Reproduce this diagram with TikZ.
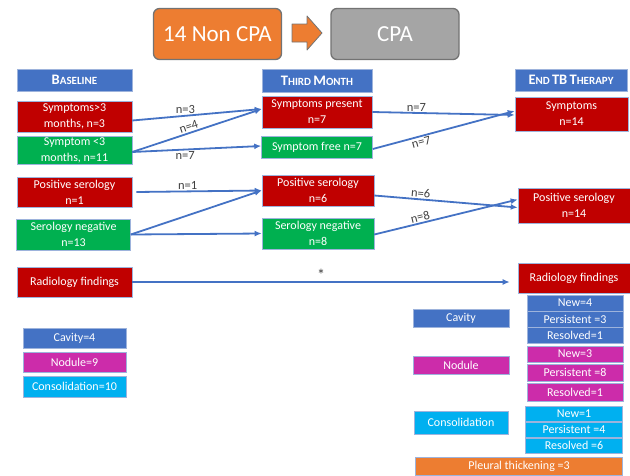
\documentclass[tikz,border=0pt]{standalone}
\usepackage{fontspec}
\setmainfont{Carlito}
\usetikzlibrary{arrows.meta}
\definecolor{pblue}{HTML}{4472C4}
\definecolor{pred}{HTML}{C00000}
\definecolor{pgreen}{HTML}{00B050}
\definecolor{pmag}{HTML}{CC2CAA}
\definecolor{pcyan}{HTML}{00B0F0}
\definecolor{porange}{HTML}{ED7D31}
\definecolor{pgray}{HTML}{A5A5A5}
\definecolor{pedge}{HTML}{9DB3DC}
\definecolor{plab}{HTML}{404040}
\newcommand{\hcap}[2]{{\fontsize{14.5}{16}\selectfont #1}{\fontsize{11}{16}\selectfont #2}}
\tikzset{
  box/.style = {draw = pedge, line width = 0.6pt, text = white, align = center,
    inner sep = 1pt, font = \fontsize{12}{16}\selectfont},
  wh/.style 2 args = {minimum width = #1, minimum height = #2},
  hdr/.style = {box, fill = pblue, font = \bfseries},
  big/.style = {draw = gray!90!black, line width = 1.3pt, rounded corners = 6pt,
    text = white, font = \fontsize{23}{26}\selectfont, minimum width = 128, minimum height = 51},
  lnk/.style = {draw = pblue, line width = 1.8pt, -{Latex[length = 7pt, width = 6pt]}},
  lab/.style = {text = plab, inner sep = 1pt, font = \fontsize{12.5}{14}\selectfont}
}

\begin{document}
\begin{tikzpicture}[x = 1pt, y = -1pt]
    \useasboundingbox (0, 0) rectangle (630, 475);

    % top banner
    \node [big, fill = porange] (noncpa) at (217.5, 34) {14 Non CPA};
    \node [big, fill = pgray] (cpa) at (395, 34) {CPA};
    \draw [fill = porange, draw = gray!90!black, line width = 0.8pt, line join = round]
      (292, 24) -- (307, 24) -- (307, 16) -- (322, 33) -- (307, 50) -- (307, 42) -- (292, 42) -- cycle;

    % column heads
    \node [hdr, wh = {115}{22}] (base) at (74.5, 80) {\hcap{B}{ASELINE}};
    \node [hdr, wh = {110}{23}] (third) at (317, 80.5) {\hcap{T}{HIRD} \hcap{M}{ONTH}};
    \node [hdr, wh = {112}{22}] (endtb) at (571, 80) {\hcap{E}{ND} \hcap{TB}{} \hcap{T}{HERAPY}};

    % symptoms
    \node [box, fill = pred, wh = {115}{31}] (sym3) at (74.5, 116.5) {Symptoms>3\\months, n=3};
    \node [box, fill = pgreen, wh = {115}{28}] (sym11) at (74.5, 150) {Symptom <3\\months, n=11};
    \node [box, fill = pred, wh = {110}{32}] (sympres) at (317, 112) {Symptoms present\\n=7};
    \node [box, fill = pgreen, wh = {111}{22}] (symfree) at (317, 147) {Symptom free n=7};
    \node [box, fill = pred, wh = {113}{34}] (symend) at (571.5, 114) {Symptoms\\n=14};

    % serology
    \node [box, fill = pred, wh = {115}{30}] (pos1) at (74.5, 192) {Positive serology\\n=1};
    \node [box, fill = pgreen, wh = {114}{31}] (neg13) at (73.5, 234.5) {Serology negative\\n=13};
    \node [box, fill = pred, wh = {112}{31}] (pos6) at (318, 190.5) {Positive serology\\n=6};
    \node [box, fill = pgreen, wh = {112}{31}] (neg8) at (318, 233.5) {Serology negative\\n=8};
    \node [box, fill = pred, wh = {112}{35}] (pos14) at (574, 205.5) {Positive serology\\n=14};

    % radiology
    \node [box, fill = pred, wh = {115}{30}] (radl) at (74.5, 282) {Radiology findings};
    \node [box, fill = pred, wh = {112}{30}] (radr) at (574, 278) {Radiology findings};

    \node [box, fill = pblue, wh = {103}{20}] (cav4) at (74.5, 338) {Cavity=4};
    \node [box, fill = pmag, wh = {103}{20}] (nod9) at (74.5, 362) {Nodule=9};
    \node [box, fill = pcyan, wh = {103}{21}] (cons10) at (74.5, 386.5) {Consolidation=10};

    \node [box, fill = pblue, wh = {96}{18}] (cavr) at (461, 318) {Cavity};
    \node [box, fill = pmag, wh = {96}{18}] (nodr) at (461, 365) {Nodule};
    \node [box, fill = pcyan, wh = {94}{23}] (consr) at (461, 422.5) {Consolidation};

    \node [box, fill = pblue, wh = {96}{16}] (cnew) at (575, 303) {New=4};
    \node [box, fill = pblue, wh = {96}{16}] (cper) at (575, 319) {Persistent =3};
    \node [box, fill = pblue, wh = {96}{16}] (cres) at (575, 335) {Resolved=1};
    \node [box, fill = pmag, wh = {96}{16}] (nnew) at (575, 354) {New=3};
    \node [box, fill = pmag, wh = {96}{17}] (nper) at (575, 372.5) {Persistent =8};
    \node [box, fill = pmag, wh = {96}{18}] (nres) at (575, 392.5) {Resolved=1};
    \node [box, fill = pcyan, wh = {97}{15}] (snew) at (574, 413.5) {New=1};
    \node [box, fill = pcyan, wh = {97}{15}] (sper) at (574, 429.5) {Persistent =4};
    \node [box, fill = pcyan, wh = {97}{15}] (sres) at (574, 445.5) {Resolved =6};
    \node [box, fill = porange, wh = {207}{18}] (pleu) at (519, 466) {Pleural thickening =3};

    % flows
    \draw [lnk] ([yshift = -4]sym3.east) -- ([yshift = 3]sympres.west)
      node [lab, pos = 0.41, above] {n=3};
    \draw [lnk] ([yshift = -2]sym11.east) -- ([yshift = 3]sympres.west)
      node [lab, pos = 0.45, above, sloped] {n=4};
    \draw [lnk] ([yshift = -2]sym11.east) -- ([yshift = 1]symfree.west)
      node [lab, pos = 0.41, below] {n=7};
    \draw [lnk] (sympres.east) -- ([yshift = -1]symend.west)
      node [lab, pos = 0.31, above] {n=7};
    \draw [lnk] ([yshift = -2]symfree.east) -- ([yshift = 3]symend.west)
      node [lab, pos = 0.33, below, sloped] {n=7};

    \draw [lnk] ([xshift = 4]pos1.east) -- (pos6.west)
      node [lab, pos = 0.41, above] {n=1};
    \draw [lnk] (neg13.east) -- (pos6.west);
    \draw [lnk] (neg13.east) -- (neg8.west);
    \draw [lnk] ([yshift = -5]pos6.east) -- ([yshift = -2]pos14.west)
      node [lab, pos = 0.32, above, sloped] {n=6};
    \draw [lnk] ([yshift = -1]neg8.east) -- ([yshift = 6]pos14.west)
      node [lab, pos = 0.33, above, sloped] {n=8};

    \draw [lnk, shorten > = 8pt] (radl.east) -- (radl.east -| radr.west)
      node [lab, pos = 0.49, above, font = \fontsize{16}{16}\selectfont] {*};
  \end{tikzpicture}
\end{document}
